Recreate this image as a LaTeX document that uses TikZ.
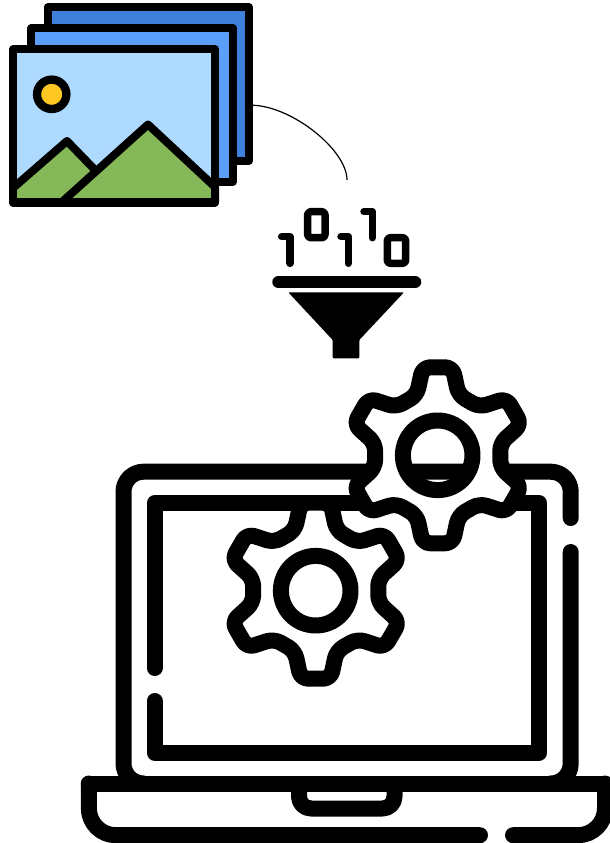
\documentclass[tikz,border=0pt]{standalone}
\tikzset{
  frameback/.style={draw=black,line width=8pt,line join=round,fill=#1},
  mountain/.style={draw=black,line width=8pt,line join=round,fill=mountaingreen},
  icon/.style={draw=black,line width=16pt,line cap=round,line join=round},
  digit/.style={draw=black,line width=7.5pt,line cap=round,line join=round},
  gearline/.style={draw=black,line width=16pt,line join=round,fill=white,even odd rule,rounded corners=7.5pt},
}
\definecolor{mountaingreen}{HTML}{85B858}
\definecolor{sky}{HTML}{AEDAFF}
\definecolor{midblue}{HTML}{5B9FFB}
\definecolor{backblue}{HTML}{3F80DB}
\definecolor{sunyellow}{HTML}{FFC722}
\newcommand{\gearat}[2]{%
  \begin{scope}[shift={(#1,#2)}]
    \path[gearline] (90:88)
      \foreach \a in {90,150,210,270,330,390}{
        -- ({\a+9.65}:89.27) -- ({\a+19.15}:63.7) -- ({\a+40.85}:63.7) -- ({\a+50.35}:89.27)
      } -- cycle
      (0,0) circle (34.8);
  \end{scope}}
\begin{document}
\begin{tikzpicture}[x=1pt,y=-1pt]
\useasboundingbox (0,0) rectangle (610,843);
\clip (0,0) rectangle (610,843);
\fill[white] (0,0) rectangle (610,843);

% stacked pictures
\path[frameback=backblue] (47.5,7.5) rectangle (249,160.5);
\path[frameback=midblue] (31,28.5) rectangle (233,181.5);
\fill[sky] (13,49.5) rectangle (215,202.5);
\path[mountain] (13,188) -- (67,141) -- (97,172) -- (65,202) -- (13,202);
\path[mountain] (62,202) -- (148,124.5) -- (215,187) -- (215,202) -- cycle;
\draw[black,line width=8pt,line join=round] (13,49.5) rectangle (215,202.5);
\draw[black,line width=8.3pt,fill=sunyellow] (51.7,94.3) circle (14.7);

% connector
\coordinate (curvestart) at (252,105.2);
\coordinate (curveend) at (347,180);
\draw[black,line width=1.2pt] (curvestart) .. controls (292,106) and (347,150) .. (curveend);

% binary digits
\path[digit] (281.7,236.7) -- (290,236.7) -- (290,263.3);
\path[digit,rounded corners=3pt] (307.7,211.7) rectangle (325,237.7);
\path[digit] (341,236.7) -- (348.3,236.7) -- (348.3,263.3);
\path[digit] (364,211.7) -- (372.3,211.7) -- (372.3,237.7);
\path[digit,rounded corners=3pt] (387.3,237.7) rectangle (405.7,263.3);

% funnel
\draw[black,line width=12.5pt,line cap=round] (278.5,282) -- (415,282);
\fill[black,rounded corners=1pt] (288.3,292.3) -- (404,292.3) -- (359.3,340) -- (359.3,358.3) -- (332.7,358.3) -- (332.7,340) -- cycle;

% laptop lid
\path[icon,rounded corners=20pt] (570.7,518) -- (570.7,471.7) -- (123.5,471.7) -- (123.5,783.5) -- (143.5,783.5);
\path[icon,rounded corners=20pt] (570.7,552) -- (570.7,783.5) -- (550.7,783.5);
% screen
\path[icon] (154.5,668) -- (154.5,503.2) -- (539.2,503.2) -- (539.2,752.5) -- (154.5,752.5) -- (154.5,701);
% base
\path[icon] (88.8,783.5) -- (605,783.5);
\path[icon,rounded corners=27pt] (480,835.2) -- (88.8,835.2) -- (88.8,783.5);
\path[icon,rounded corners=27pt] (513,835.2) -- (605,835.2) -- (605,783.5);
\path[icon,rounded corners=12pt] (299,784) -- (299,808.5) -- (394.5,808.5) -- (394.5,784);

% gears: the lower one stops at the screen's top edge
\begin{scope}
  \clip (200,498) rectangle (430,700);
  \gearat{315.7}{590.7}
\end{scope}
\gearat{437.7}{455.3}
\end{tikzpicture}
\end{document}
